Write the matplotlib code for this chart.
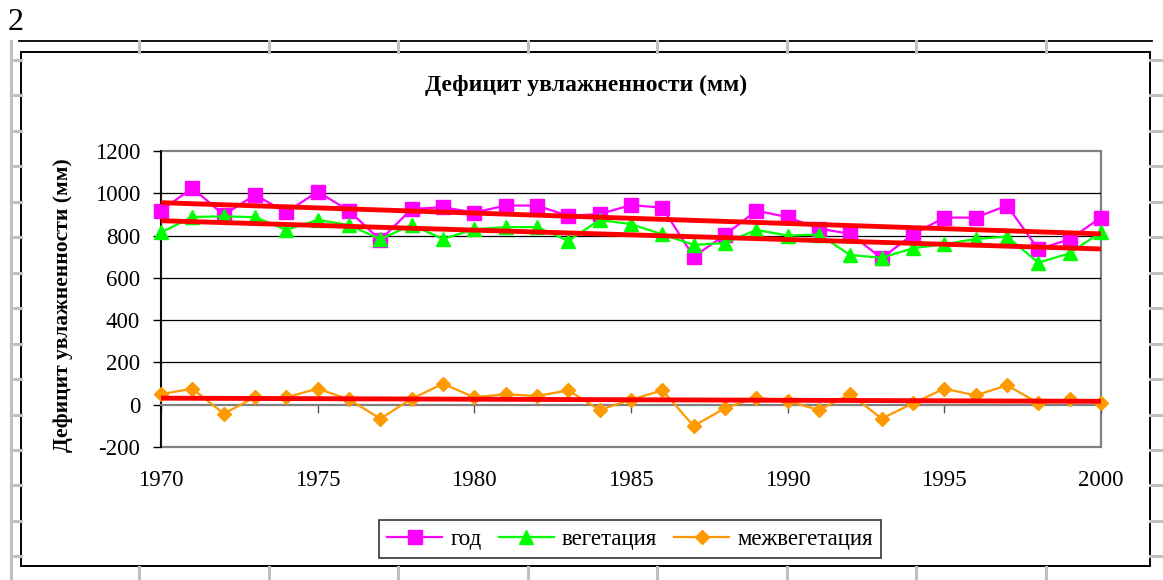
import numpy as np
import matplotlib
matplotlib.use("Agg")
import matplotlib.pyplot as plt
from matplotlib.lines import Line2D
from matplotlib.patches import Rectangle

years = list(range(1970, 2001))
god = [918, 1025, 898, 992, 910, 1008, 917, 779, 926, 934, 909, 942, 942, 893, 902,
       944, 932, 700, 803, 918, 887, 833, 808, 693, 806, 885, 885, 942, 735, 783, 885]
veg = [815, 888, 891, 887, 827, 874, 850, 783, 850, 784, 830, 840, 840, 775, 874,
       854, 806, 756, 765, 827, 800, 805, 708, 695, 740, 759, 784, 795, 672, 716, 817]
mezh = [50, 76, -42, 35, 35, 76, 25, -66, 28, 99, 35, 50, 41, 68, -25,
        24, 68, -101, -16, 33, 17, -25, 50, -66, 7, 76, 44, 92, 8, 25, 8]
series_names = ["год", "вегетация", "межвегетация"]
title = "Дефицит увлажненности (мм)"
ylabel = "Дефицит увлажненности (мм)"
yticks = [-200, 0, 200, 400, 600, 800, 1000, 1200]
xticks = [1970, 1975, 1980, 1985, 1990, 1995, 2000]

W, H = 1163, 580
plt.rcParams['font.family'] = ['Liberation Serif', 'DejaVu Serif']
plt.rcParams['axes.unicode_minus'] = False
fig = plt.figure(figsize=(W / 100, H / 100), dpi=100)

def fx(px):
    return px / W

def fy(py):
    return 1 - py / H

# --- document decorations ---
gray = "#c0c0c0"
fig.add_artist(Line2D([fx(19), fx(1152)], [fy(41), fy(41)], color="black", lw=1.3))
fig.add_artist(Line2D([fx(11), fx(11)], [fy(41), fy(580)], color=gray, lw=2.2))
for yy in np.arange(60, 580, 35.45):
    fig.add_artist(Line2D([fx(11), fx(21)], [fy(yy), fy(yy)], color=gray, lw=2.2))
    fig.add_artist(Line2D([fx(1150), fx(1163)], [fy(yy), fy(yy)], color=gray, lw=2.2))
for xx in np.arange(139, 1150, 129.5):
    fig.add_artist(Line2D([fx(xx), fx(xx)], [fy(41), fy(52)], color=gray, lw=2.2))
    fig.add_artist(Line2D([fx(xx), fx(xx)], [fy(567), fy(580)], color=gray, lw=2.2))
fig.add_artist(Rectangle((fx(21), fy(566)), fx(1150 - 21), (566 - 52) / H,
                         fill=True, facecolor="white", edgecolor="black", lw=1.4, zorder=0))
fig.text(fx(8), fy(22), "2", fontsize=23, va="center", ha="left", color="black")

# --- axes ---
left, right, top, bottom = 161, 1101, 151, 447
ax = fig.add_axes([fx(left), fy(bottom), fx(right - left), (bottom - top) / H])
ax.set_facecolor("white")
ax.patch.set_edgecolor("#808080")
ax.patch.set_linewidth(1.6)

x = np.array(years)
ax.plot(x, god, color="#FF00FF", lw=1.6, marker="s", ms=9.5, mec="#FF00FF",
        label=series_names[0], clip_on=False, zorder=4)
ax.plot(x, veg, color="#00FF00", lw=1.6, marker="^", ms=10, mec="#00FF00",
        label=series_names[1], clip_on=False, zorder=4)
ax.plot(x, mezh, color="#FF9900", lw=1.6, marker="D", ms=7.5, mec="#FF9900",
        label=series_names[2], clip_on=False, zorder=4)

for s in (god, veg, mezh):
    k, b = np.polyfit(x, s, 1)
    ax.plot(x, k * x + b, color="#FF0000", lw=3.5, zorder=5, solid_capstyle="butt")

ax.set_xlim(1970, 2000)
ax.set_ylim(-200, 1200)
ax.set_yticks(yticks)
ax.set_xticks(xticks)
ax.yaxis.grid(True, color="black", lw=0.9)
for t, v in zip(ax.yaxis.get_major_ticks(), yticks):
    if v in (-200, 0, 1200):
        t.gridline.set_visible(False)
ax.set_axisbelow(True)

for sp in ("top", "right"):
    ax.spines[sp].set_visible(False)
ax.spines["left"].set_color("black")
ax.spines["left"].set_linewidth(1.3)
ax.spines["bottom"].set_position(("data", 0))
ax.spines["bottom"].set_color("#808080")
ax.spines["bottom"].set_linewidth(1.6)

ax.tick_params(axis="y", direction="out", length=6, width=1.0, color="black",
               labelsize=16.5, pad=9)
ax.tick_params(axis="x", direction="out", length=6, width=1.0, color="#555555",
               labelsize=16.5, pad=41)
ax.set_ylabel(ylabel, fontsize=15.5, fontweight="bold", va="center")
ax.yaxis.set_label_coords(-0.104, 0.48)
fig.text(fx(586), fy(85), title, fontsize=17, fontweight="bold", ha="center", va="center")

leg = fig.legend(loc="center", bbox_to_anchor=(fx(630), fy(539)), ncol=3, fontsize=16.5,
                 frameon=True, fancybox=False, edgecolor="black", handlelength=2.4,
                 columnspacing=0.75, handletextpad=0.35, borderpad=0.38, borderaxespad=0)
leg.get_frame().set_linewidth(1.2)

fig.savefig("out.png", dpi=100)
